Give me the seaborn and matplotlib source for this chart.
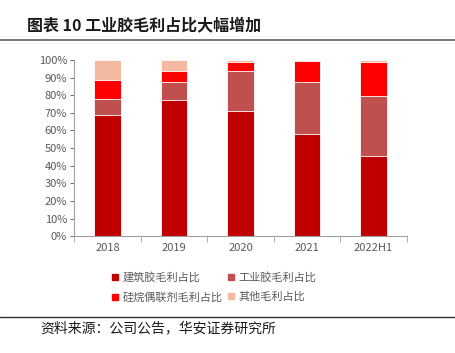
import numpy as np
import pandas as pd
import matplotlib
matplotlib.use('Agg')
import matplotlib.pyplot as plt
from matplotlib.lines import Line2D
import seaborn as sns

# 数据（单位：%）
years = ['2018', '2019', '2020', '2021', '2022H1']
series_names = ['建筑胶毛利占比', '工业胶毛利占比', '硅烷偶联剂毛利占比', '其他毛利占比']
building = [68.9, 77.5, 71.2, 58.1, 45.6]
industrial = [8.8, 10.0, 22.5, 29.4, 33.9]
silane = [11.1, 6.4, 5.4, 11.9, 19.2]
other = [11.2, 6.1, 0.9, 0.6, 1.3]
colors = ['#C00000', '#C0504D', '#FF0000', '#F4B9A1']

sns.set_theme(style='white')
plt.rcParams['font.family'] = ['Noto Sans CJK SC', 'DejaVu Sans']

fig = plt.figure(figsize=(4.55, 3.53), dpi=100)
ax = fig.add_axes([0.163, 0.331, 0.731, 0.499])

# 堆积：从累计最高的开始画，依次覆盖
stack = np.cumsum(np.array([building, industrial, silane, other]), axis=0)
for i in range(3, -1, -1):
    df = pd.DataFrame({'year': years, 'val': stack[i]})
    sns.barplot(data=df, x='year', y='val', color=colors[i], width=0.4,
                edgecolor='white', linewidth=0.6, saturation=1, ax=ax)

ax.set_xlim(-0.5, 4.5)
ax.set_ylim(0, 100)
ax.set_yticks(np.arange(0, 101, 10))
ax.set_yticklabels([f'{v}%' for v in range(0, 101, 10)])
ax.set_xlabel('')
ax.set_ylabel('')
ax.tick_params(axis='both', labelsize=8, colors='#595959', labelcolor='#595959')
ax.tick_params(axis='y', length=3, width=0.6, direction='out', left=True, pad=2)
ax.tick_params(axis='x', length=0, pad=5)
ax.set_xticks(np.arange(-0.5, 5, 1), minor=True)
ax.tick_params(axis='x', which='minor', length=4, width=0.6, color='#A0A0A0', bottom=True)
for s in ['top', 'right']:
    ax.spines[s].set_visible(False)
for s in ['left', 'bottom']:
    ax.spines[s].set_color('#A0A0A0')
    ax.spines[s].set_linewidth(0.8)

# 图例按列填充：左列 建筑/硅烷，右列 工业/其他
order = [0, 2, 1, 3]
handles = [Line2D([0], [0], marker='s', color='none', markerfacecolor=colors[i],
                  markeredgecolor=colors[i], markersize=4.5) for i in order]
labels = [series_names[i] for i in order]
fig.legend(handles, labels, loc='center', bbox_to_anchor=(0.47, 0.186),
           ncol=2, frameon=False, fontsize=8, labelcolor='#595959',
           handlelength=0.6, handletextpad=0.4, columnspacing=0.4, labelspacing=0.8)

fig.text(0.06, 1 - 25 / 353, '图表 10 工业胶毛利占比大幅增加', fontsize=11.5,
         fontweight='bold', va='center', ha='left', color='#1a1a1a')
fig.add_artist(Line2D([0, 1], [1 - 40 / 353] * 2, color='#606060', linewidth=1.2))
fig.add_artist(Line2D([0, 1], [1 - 317 / 353] * 2, color='#303030', linewidth=1.0))
fig.text(0.088, 1 - 328 / 353, '资料来源：公司公告，华安证券研究所', fontsize=10,
         va='center', ha='left', color='#1a1a1a')

fig.savefig('out.png', dpi=100)
